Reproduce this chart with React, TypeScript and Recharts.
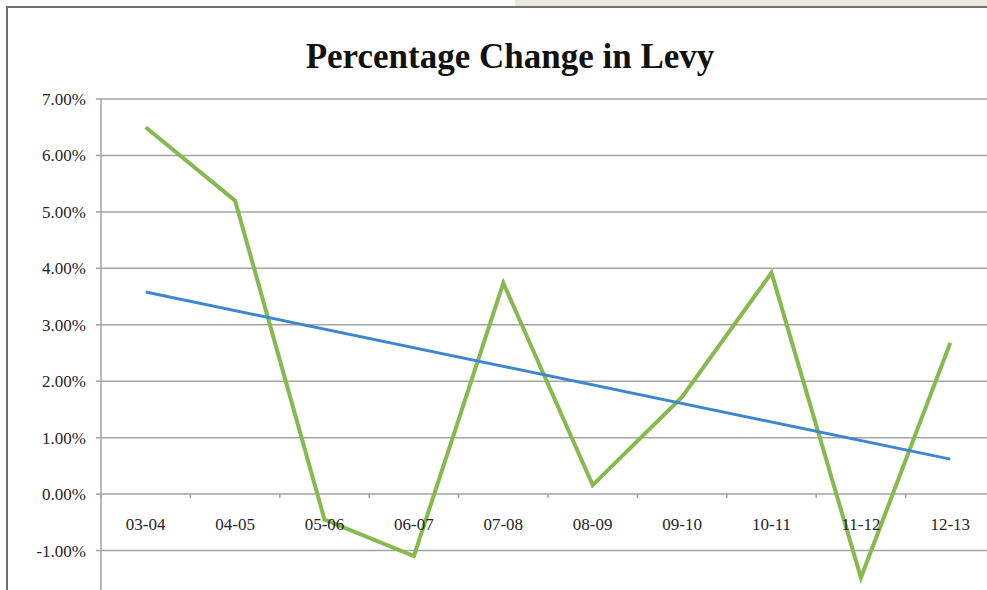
import { LineChart, Line, XAxis, YAxis, CartesianGrid } from "recharts";

const periods = ["03-04", "04-05", "05-06", "06-07", "07-08", "08-09", "09-10", "10-11", "11-12", "12-13"];
const levyChange = [6.5, 5.2, -0.45, -1.1, 3.74, 0.16, 1.72, 3.92, -1.48, 2.68];
const trendEnds = [3.58, null, null, null, null, null, null, null, null, 0.62];
const yTicks = [-1, 0, 1, 2, 3, 4, 5, 6, 7];

const data = periods.map((p, i) => ({ period: p, levy: levyChange[i], trend: trendEnds[i] }));

const Y_MIN = -2;
const Y_MAX = 7;
const CHART_W = 1040;
const CHART_H = 640;
const MARGIN = { top: 99, right: 45, bottom: 32, left: 0 };
const Y_AXIS_W = 101;
const PLOT_H = CHART_H - MARGIN.top - MARGIN.bottom - 1;
const PLOT_W = CHART_W - MARGIN.left - MARGIN.right - Y_AXIS_W;
const ZERO_Y = MARGIN.top + (PLOT_H * (Y_MAX - 0)) / (Y_MAX - Y_MIN);
const BAND = PLOT_W / periods.length;

const GRID = "#a3a3a3";
const FONT = "'Liberation Serif', serif";

function CategoryTick(props: any) {
  const { x, payload, index } = props;
  return (
    <g>
      {index === 0 && (
        <line x1={x - BAND / 2} x2={x - BAND / 2} y1={ZERO_Y} y2={ZERO_Y + 4} stroke={GRID} strokeWidth={1.5} />
      )}
      <line x1={x + BAND / 2} x2={x + BAND / 2} y1={ZERO_Y} y2={ZERO_Y + 4} stroke={GRID} strokeWidth={1.5} />
      <text x={x} y={ZERO_Y + 36} textAnchor="middle" fontFamily={FONT} fontSize={17} fill="#262626">
        {payload.value}
      </text>
    </g>
  );
}

export default function App() {
  return (
    <div
      style={{
        position: "fixed",
        left: 0,
        top: 0,
        width: 987,
        height: 590,
        overflow: "hidden",
        background: "#fff",
      }}
    >
      <div style={{ position: "absolute", left: 515, top: 0, width: 472, height: 6, background: "#e9e9e2" }} />
      <div
        style={{
          position: "absolute",
          left: 6,
          top: 6,
          width: 1100,
          height: 700,
          borderTop: "2px solid #707070",
          borderLeft: "2px solid #707070",
        }}
      />
      <div
        style={{
          position: "absolute",
          left: 8,
          top: 37,
          width: 1004,
          textAlign: "center",
          fontFamily: FONT,
          fontWeight: "bold",
          fontSize: 35,
          lineHeight: "40px",
          color: "#111",
        }}
      >
        Percentage Change in Levy
      </div>
      <div style={{ position: "absolute", left: 0, top: 0 }}>
        <LineChart width={CHART_W} height={CHART_H} data={data} margin={MARGIN}>
          <CartesianGrid horizontal vertical={false} stroke={GRID} strokeWidth={1.5} />
          <XAxis
            dataKey="period"
            height={1}
            axisLine={false}
            tickLine={false}
            interval={0}
            padding={{ left: BAND / 2, right: BAND / 2 }}
            tick={<CategoryTick />}
          />
          <YAxis
            width={Y_AXIS_W}
            domain={[Y_MIN, Y_MAX]}
            ticks={yTicks}
            interval={0}
            axisLine={{ stroke: GRID, strokeWidth: 1.5 }}
            tickLine={{ stroke: GRID, strokeWidth: 1.5 }}
            tickSize={5}
            tickMargin={10}
            tickFormatter={(v: number) => `${v.toFixed(2)}%`}
            tick={{ fontFamily: FONT, fontSize: 17, fill: "#262626" }}
          />
          <Line
            type="linear"
            dataKey="levy"
            stroke="#86b94e"
            strokeWidth={4}
            dot={false}
            activeDot={false}
            isAnimationActive={false}
          />
          <Line
            type="linear"
            dataKey="trend"
            stroke="#3d87cf"
            strokeWidth={3}
            dot={false}
            activeDot={false}
            connectNulls
            isAnimationActive={false}
          />
        </LineChart>
      </div>
    </div>
  );
}
